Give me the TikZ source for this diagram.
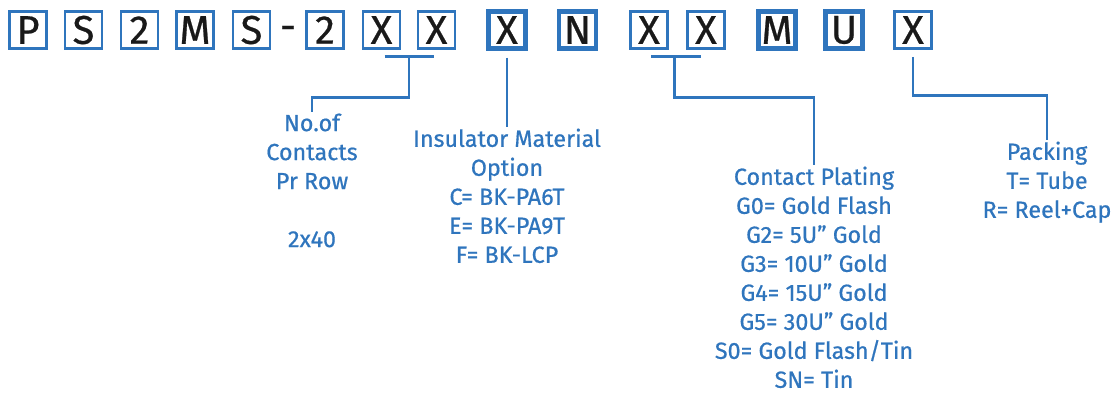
\documentclass[tikz,border=0pt]{standalone}
\usepackage{fontspec}
\setmainfont{Fira Sans}
\newfontfamily\pnfont{Fira Sans}[FakeBold=0.6]
\usetikzlibrary{calc,positioning}
\definecolor{pnblue}{RGB}{47,117,189}
\definecolor{pnblack}{RGB}{25,25,25}

\begin{document}
\begin{tikzpicture}[
    x=0.75pt, y=-0.75pt,
    digit/.style={rectangle, draw=pnblue, line width=1.9pt, minimum size=27.75pt, inner sep=0pt, font=\pnfont\fontsize{30}{30}\selectfont, text=pnblack},
    fixed/.style={digit, line width=3.2pt},
    desc/.style={anchor=north, align=center, inner sep=1pt, text=pnblue, font=\pnfont\fontsize{17.5}{21.75}\selectfont},
    link/.style={draw=pnblue, line width=2.2pt}
]
\useasboundingbox (0,0) rectangle (1117,394);

% Part number boxes
\node[digit] (p) at (28,30) {P};
\node[digit] (s1) at (83.5,30) {S};
\node[digit] (two1) at (139.5,30) {2};
\node[digit] (m1) at (195,30) {M};
\node[digit] (s2) at (251.5,30) {S};
\node[font=\pnfont\fontsize{30}{30}\selectfont, text=pnblack, inner sep=0pt] (dash) at (288,33) {-};
\node[digit] (two2) at (325,30) {2};
\node[digit] (x1) at (381.5,30) {X};
\node[digit] (x2) at (436.5,30) {X};
\node[fixed] (x3) at (507,30) {X};
\node[fixed] (n) at (577.5,30) {N};
\node[digit] (x4) at (649,30) {X};
\node[digit] (x5) at (706,30) {X};
\node[fixed] (m2) at (777,30) {M};
\node[fixed] (u) at (844,30) {U};
\node[digit] (x6) at (913,30) {X};

% Descriptions
\node[desc] (contacts) at (312,112) {No.of\\Contacts\\Pr Row\\[21.75pt]2x40};
\node[desc] (insul) at (507,127) {Insulator Material\\Option\\C= BK-PA6T\\E= BK-PA9T\\F= BK-LCP};
\node[desc] (plating) at (814,165) {Contact Plating\\G0= Gold Flash\\G2= 5U” Gold\\G3= 10U” Gold\\G4= 15U” Gold\\G5= 30U” Gold\\S0= Gold Flash/Tin\\SN= Tin};
\node[desc] (packing) at (1047,140) {Packing\\T= Tube\\R= Reel+Cap};

% Contacts bracket
\draw[link] ($(x1.south)+(3,7)$) -- ($(x2.south)+(-3,7)$);
\coordinate (b1) at ($(x1.south)!0.5!(x2.south)+(0,7)$);
\draw[link] (b1) -- ++(0,41) -| (contacts.north);

% Insulator
\draw[link] ($(x3.south)+(0,7)$) -- (insul.north);

% Plating bracket
\draw[link] ($(x4.south)+(2,7)$) -- ($(x5.south)+(-5,7)$);
\coordinate (b2) at ($(x4.south)!0.45!(x5.south)+(0,7)$);
\draw[link] (b2) -- ++(0,41) -| (plating.north);

% Packing
\draw[link] ($(x6.south)+(0,7)$) -- ++(0,39) -| (packing.north);

\end{tikzpicture}
\end{document}
